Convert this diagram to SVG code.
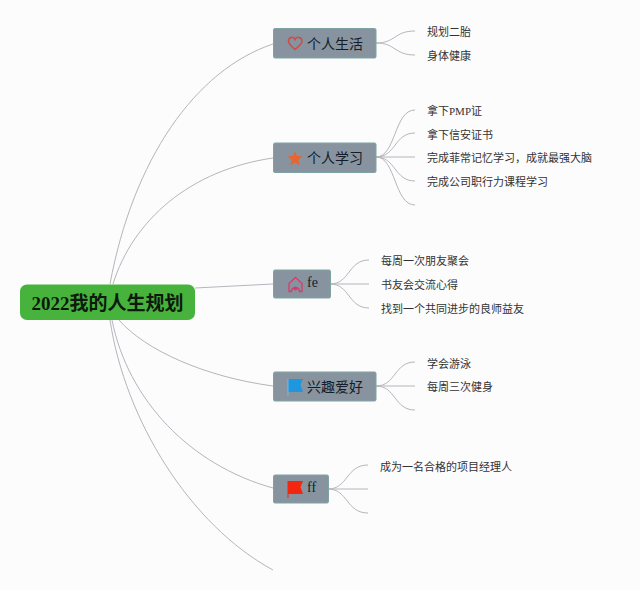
<svg xmlns="http://www.w3.org/2000/svg" width="640" height="590" viewBox="0 0 640 590">
<style>
.l{fill:none;stroke:#b4b6bc;stroke-width:1}
.n{fill:#87949f;stroke:#7fa3a3;stroke-width:1}
.t{font-family:"Noto Sans CJK SC","Liberation Serif",sans-serif;font-size:14px;fill:#141c2a}
.f{font-family:"Liberation Serif",serif;font-size:14px;fill:#141c2a}
.s{font-family:"Liberation Serif","Noto Sans CJK SC",serif;font-size:11px;fill:#333}
.r{font-family:"Liberation Serif","Noto Sans CJK SC",serif;font-size:19px;font-weight:700;fill:#0d1a0d}
</style>
<rect width="640" height="590" fill="#fcfcfd"/>
<g id="connectors">
<path class="l" d="M110 284C133 160 195 70 273 44"/>
<path class="l" d="M113 284C133 220 190 170 273 158"/>
<path class="l" d="M195 288L273 284"/>
<path class="l" d="M119 320C145 350 205 377 273 386"/>
<path class="l" d="M112 320C128 400 190 465 273 488"/>
<path class="l" d="M110 320C125 420 190 525 273 570"/>
<path class="l" d="M376 43C396 43 394 31 415 31"/>
<path class="l" d="M376 43C396 43 394 55 415 55"/>
<path class="l" d="M376 157C396 157 394 110 415 110"/>
<path class="l" d="M376 157C396 157 394 133 415 133"/>
<path class="l" d="M376 157L415 157"/>
<path class="l" d="M376 157C396 157 394 181 415 181"/>
<path class="l" d="M376 157C396 157 394 205 415 205"/>
<path class="l" d="M330 284C350 284 348 260 369 260"/>
<path class="l" d="M330 284L369 284"/>
<path class="l" d="M330 284C350 284 348 308 369 308"/>
<path class="l" d="M376 386C396 386 394 362 415 362"/>
<path class="l" d="M376 386L415 386"/>
<path class="l" d="M376 386C396 386 394 410 415 410"/>
<path class="l" d="M328 489C348 489 346 465 368 465"/>
<path class="l" d="M328 489L368 489"/>
<path class="l" d="M328 489C348 489 346 513 368 513"/>
</g>
<g id="root">
<rect x="20" y="284.500" width="175" height="35.500" rx="7" fill="#47b33c"/>
<text class="r" x="107.500" y="309.500" text-anchor="middle">2022我的人生规划</text>
</g>
<g id="node-life">
<rect class="n" x="273.500" y="28.500" width="102.500" height="29.500" rx="1.500"/>
<path d="M295 49.500C290 45.500 288.500 43.500 288.500 41C288.500 37 293.500 36 295 39.500C296.500 36 302 37 302 41C302 43.500 300 45.500 295 49.500Z" fill="none" stroke="#cf4a45" stroke-width="1.500"/>
<text class="t" x="307" y="48.500">个人生活</text>
</g>
<g id="node-study">
<rect class="n" x="273.500" y="143" width="102.500" height="29.500" rx="1.500"/>
<path d="M295 151L297 156L302.500 156.500L298.300 160L299.700 165.500L295 162.500L290.300 165.500L291.700 160L287.500 156.500L293 156Z" fill="#e8652f"/>
<text class="t" x="307" y="163">个人学习</text>
</g>
<g id="node-fe">
<rect class="n" x="273.500" y="270" width="57" height="28" rx="1.500"/>
<path d="M289 291.500V283.500L295.500 277.500L302 283.500V291.500H299.500C299.500 286.500 291.500 286.500 291.500 291.500Z" fill="none" stroke="#d93a6c" stroke-width="1.300"/>
<circle cx="295.500" cy="288.500" r="2" fill="#d93a6c"/>
<text class="f" x="307" y="287">fe</text>
</g>
<g id="node-hobby">
<rect class="n" x="273.500" y="372" width="102.500" height="29" rx="1.500"/>
<path d="M288 379H303L300.500 384.500L303 392H288Z" fill="#1f96e0"/>
<path d="M288 379V396" stroke="#7fb6dc" stroke-width="1"/>
<text class="t" x="307" y="392">兴趣爱好</text>
</g>
<g id="node-ff">
<rect class="n" x="273.500" y="475" width="55" height="28" rx="1.500"/>
<path d="M288 481H303L300.500 487L303 494H288Z" fill="#f5260f"/>
<path d="M288 481V498" stroke="#f5260f" stroke-width="1"/>
<text class="f" x="307" y="492">ff</text>
</g>
<g id="leaves">
<text class="s" x="427" y="36">规划二胎</text>
<text class="s" x="427" y="60">身体健康</text>
<text class="s" x="427" y="115">拿下PMP证</text>
<text class="s" x="427" y="139">拿下信安证书</text>
<text class="s" x="427" y="162">完成菲常记忆学习，成就最强大脑</text>
<text class="s" x="427" y="186">完成公司职行力课程学习</text>
<text class="s" x="381" y="265">每周一次朋友聚会</text>
<text class="s" x="381" y="289">书友会交流心得</text>
<text class="s" x="381" y="313">找到一个共同进步的良师益友</text>
<text class="s" x="427" y="368">学会游泳</text>
<text class="s" x="427" y="391">每周三次健身</text>
<text class="s" x="380" y="470.500">成为一名合格的项目经理人</text>
</g>
</svg>
